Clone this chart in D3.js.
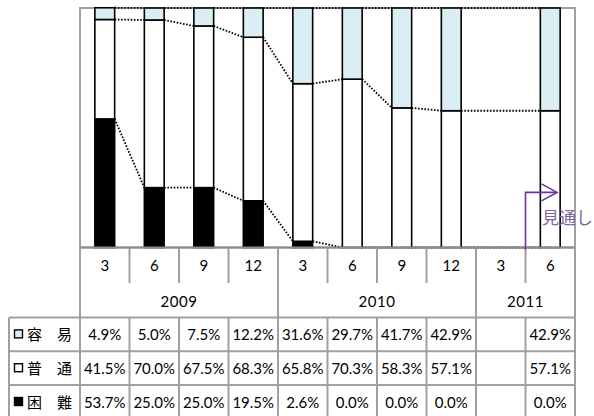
<!DOCTYPE html>
<html>
<head>
<meta charset="utf-8">
<script src="https://cdn.jsdelivr.net/npm/d3@7"></script>
<style>
  html, body { margin: 0; padding: 0; background: #fff; }
  svg { display: block; }
</style>
</head>
<body>
<svg id="chart" width="594" height="416"></svg>
<script>
// Survey periods (month of each quarter) and their year groups
const months = ["3", "6", "9", "12", "3", "6", "9", "12", "3", "6"];
const yearLabels = ["2009", "2010", "2011"];
const yearSpans = [4, 4, 2];

// Share of answers per period, in percent (null = no survey)
const seriesNames = ["容　易", "普　通", "困　難"];
const easy   = [4.9, 5.0, 7.5, 12.2, 31.6, 29.7, 41.7, 42.9, null, 42.9];
const normal = [41.5, 70.0, 67.5, 68.3, 65.8, 70.3, 58.3, 57.1, null, 57.1];
const hard   = [53.7, 25.0, 25.0, 19.5, 2.6, 0.0, 0.0, 0.0, null, 0.0];
const outlookLabel = "見通し";

const svg = d3.select("#chart");

const plot = { left: 80, right: 575, top: 8, bottom: 247.5 };
const cols = months.map((m, i) => i);

const x = d3.scaleBand().domain(cols).range([plot.left, plot.right]).paddingInner(0).paddingOuter(0);
const y = d3.scaleLinear().domain([0, 100]).range([plot.bottom, plot.top]);
const barW = x.bandwidth() * 0.4;

const rows = cols.map(i => ({ i, hard: hard[i], normal: normal[i], easy: easy[i], present: easy[i] !== null }));
const stackKeys = ["hard", "normal", "easy"];
const fills = { hard: "#000000", normal: "#ffffff", easy: "#dbeef3" };
const stacked = d3.stack().keys(stackKeys).value((d, k) => d[k] === null ? 0 : d[k])(rows);

const gridColor = "#a0a0a0";
const font = "Lato, 'Open Sans', sans-serif";
const cjk = "'Noto Sans CJK JP', sans-serif";

// Plot area frame
svg.append("rect")
  .attr("x", plot.left).attr("y", plot.top)
  .attr("width", plot.right - plot.left).attr("height", plot.bottom - plot.top)
  .attr("fill", "#fff").attr("stroke", gridColor).attr("stroke-width", 2);

// Series lines joining the top of each segment between neighbouring bars
const present = rows.filter(r => r.present).map(r => r.i);
const seriesLines = [];
stacked.forEach(layer => {
  for (let k = 0; k < present.length - 1; k++) {
    const a = present[k], b = present[k + 1];
    seriesLines.push({
      x1: x(a) + x.bandwidth() / 2 + barW / 2,
      x2: x(b) + x.bandwidth() / 2 - barW / 2,
      y1: y(layer[a][1]),
      y2: y(layer[b][1])
    });
  }
});
svg.append("g").selectAll("line").data(seriesLines).join("line")
  .attr("x1", d => d.x1).attr("x2", d => d.x2)
  .attr("y1", d => d.y1).attr("y2", d => d.y2)
  .attr("stroke", "#000").attr("stroke-width", 1.8)
  .attr("stroke-dasharray", "1.6 1.6");

// Stacked bars
const layers = svg.append("g").selectAll("g").data(stacked).join("g")
  .attr("fill", d => fills[d.key]);
layers.selectAll("rect")
  .data(d => d.filter(s => s.data.present && s[1] - s[0] > 0))
  .join("rect")
  .attr("x", d => x(d.data.i) + x.bandwidth() / 2 - barW / 2)
  .attr("width", barW)
  .attr("y", d => y(d[1]))
  .attr("height", d => y(d[0]) - y(d[1]))
  .attr("stroke", "#000").attr("stroke-width", 1.6);

// Category axis line
svg.append("line")
  .attr("x1", plot.left).attr("x2", plot.right)
  .attr("y1", plot.bottom).attr("y2", plot.bottom)
  .attr("stroke", "#8c8c8c").attr("stroke-width", 2);

// Data table under the plot
const monthRowBottom = 283;
const yearRowBottom = 317.5;
const rowH = 33.8;
const tableLeft = 9;
const table = svg.append("g").attr("stroke", gridColor).attr("stroke-width", 2);

// month dividers
table.selectAll(".mdiv").data(d3.range(1, cols.length)).join("line")
  .attr("x1", i => x(i)).attr("x2", i => x(i))
  .attr("y1", plot.bottom).attr("y2", monthRowBottom);

// year group dividers
const yearStarts = yearSpans.map((s, k) => d3.sum(yearSpans.slice(0, k)));
const yearEdges = [0, ...yearSpans.map((s, k) => yearStarts[k] + s)];
const edgeX = e => e === cols.length ? plot.right : x(e);
table.selectAll(".ydiv").data(yearEdges).join("line")
  .attr("x1", edgeX).attr("x2", edgeX)
  .attr("y1", plot.bottom).attr("y2", yearRowBottom);

// data rows
const rowTops = seriesNames.map((n, r) => yearRowBottom + r * rowH);
table.selectAll(".hline").data([...rowTops, yearRowBottom + 3 * rowH]).join("line")
  .attr("x1", tableLeft).attr("x2", plot.right)
  .attr("y1", d => d).attr("y2", d => d);
table.selectAll(".vline").data([tableLeft, ...d3.range(0, cols.length).map(i => x(i)), plot.right]).join("line")
  .attr("x1", d => d).attr("x2", d => d)
  .attr("y1", yearRowBottom).attr("y2", yearRowBottom + 3 * rowH);

// month labels
svg.append("g").selectAll("text").data(months).join("text")
  .attr("x", (m, i) => x(i) + x.bandwidth() / 2)
  .attr("y", 271)
  .attr("text-anchor", "middle")
  .attr("font-family", font).attr("font-size", 15).attr("fill", "#000")
  .text(m => m);

// year labels
svg.append("g").selectAll("text").data(yearLabels).join("text")
  .attr("x", (yl, k) => (edgeX(yearStarts[k]) + edgeX(yearStarts[k] + yearSpans[k])) / 2)
  .attr("y", 306.5)
  .attr("text-anchor", "middle")
  .attr("font-family", font).attr("font-size", 15).attr("fill", "#000")
  .attr("letter-spacing", 0.5)
  .text(yl => yl);

// legend keys and values per row (top row = 容易)
const tableSeries = [
  { name: seriesNames[0], key: "easy", values: easy },
  { name: seriesNames[1], key: "normal", values: normal },
  { name: seriesNames[2], key: "hard", values: hard }
];
const rowG = svg.append("g").selectAll("g").data(tableSeries).join("g")
  .attr("transform", (d, r) => `translate(0,${rowTops[r] + rowH / 2})`);

rowG.append("rect")
  .attr("x", 14.5).attr("y", -4.5).attr("width", 8).attr("height", 8)
  .attr("fill", d => fills[d.key]).attr("stroke", "#000").attr("stroke-width", 1.4);

rowG.append("text")
  .attr("x", 27).attr("y", 5.5)
  .attr("font-family", cjk).attr("font-size", 15).attr("fill", "#000")
  .text(d => d.name);

rowG.selectAll(".val").data(d => d.values.map((v, i) => ({ v, i }))).join("text")
  .attr("x", d => x(d.i) + x.bandwidth() / 2)
  .attr("y", 6)
  .attr("text-anchor", "middle")
  .attr("font-family", font).attr("font-size", 15).attr("fill", "#000")
  .text(d => d.v === null ? "" : d3.format(".1f")(d.v) + "%");

// outlook marker: bracket arrow pointing into the forecast period
const ox = x(9);
const oy = y(23);
const purple = "#7030a0";
svg.append("path")
  .attr("d", `M${ox},${plot.bottom + 2} V${oy} H${ox + 31.5}`)
  .attr("fill", "none").attr("stroke", purple).attr("stroke-width", 1.6);
svg.append("path")
  .attr("d", `M${ox + 16},${oy - 8.5} L${ox + 31.5},${oy} L${ox + 16},${oy + 8.5}`)
  .attr("fill", "none").attr("stroke", purple).attr("stroke-width", 1.6);
svg.append("text")
  .attr("x", ox + 16.5).attr("y", oy + 32)
  .attr("font-family", cjk).attr("font-size", 17).attr("fill", "#8064a2")
  .text(outlookLabel);
</script>
</body>
</html>
